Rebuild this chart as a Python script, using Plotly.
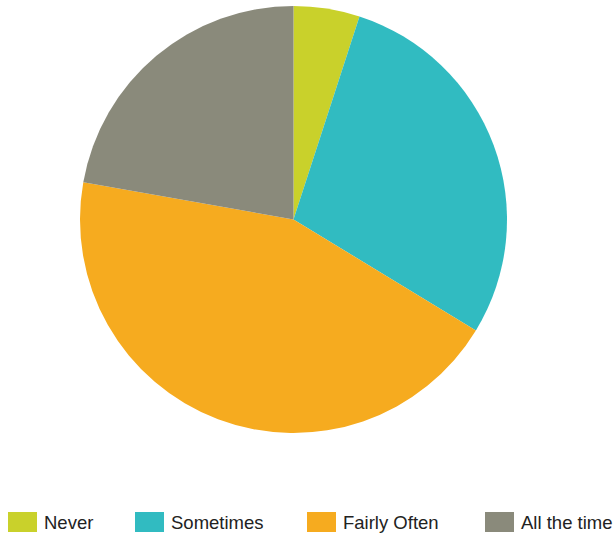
import plotly.graph_objects as go

categories = ["Never", "Sometimes", "Fairly Often", "All the time"]
values = [5.0, 28.7, 44.1, 22.2]
colors = ["#C9D12B", "#31BBC1", "#F6AB1F", "#8A8A7B"]

W, H = 616, 535
cx, cy, r = 293.5, 219.5, 213.5

fig = go.Figure(go.Pie(
    labels=categories, values=values, sort=False, direction="clockwise", rotation=0,
    marker=dict(colors=colors, line=dict(width=0)),
    textinfo="none", hoverinfo="label+percent", showlegend=False,
    domain=dict(x=[(cx - r) / W, (cx + r) / W], y=[1 - (cy + r) / H, 1 - (cy - r) / H]),
))

# manual legend at the bottom
swatch_x = [8, 135, 307, 485]
ly = 522
shapes, annotations = [], []
for cat, col, sx in zip(categories, colors, swatch_x):
    shapes.append(dict(type="rect", xref="paper", yref="paper",
                       x0=sx / W, x1=(sx + 29) / W,
                       y0=1 - (ly + 10) / H, y1=1 - (ly - 10) / H,
                       fillcolor=col, line=dict(width=0)))
    annotations.append(dict(xref="paper", yref="paper", x=(sx + 34) / W, y=1 - ly / H,
                            text=cat, showarrow=False, xanchor="left", yanchor="middle",
                            font=dict(family="Liberation Sans, Arial", size=18.5, color="#222222")))

fig.update_layout(
    width=W, height=H, margin=dict(l=0, r=0, t=0, b=0),
    paper_bgcolor="white", plot_bgcolor="white",
    shapes=shapes, annotations=annotations,
)
fig.write_html("out.html")
